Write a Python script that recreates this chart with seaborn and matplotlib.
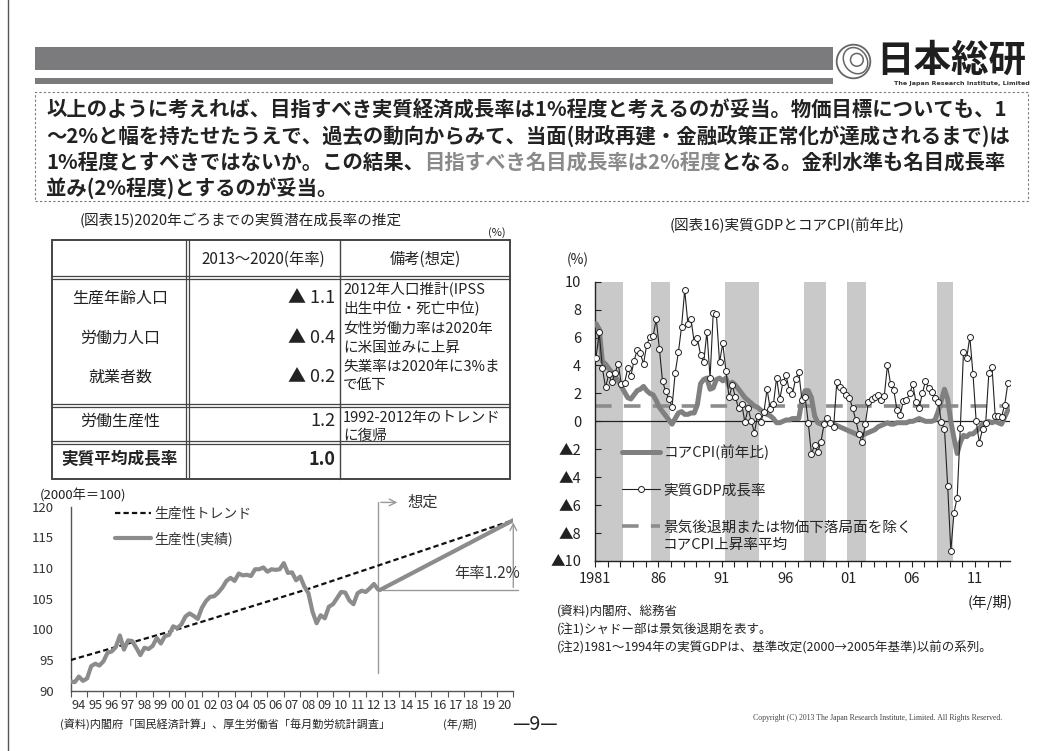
import numpy as np
import pandas as pd
import matplotlib
matplotlib.use("Agg")
import matplotlib.pyplot as plt
import seaborn as sns
from matplotlib.lines import Line2D
from matplotlib.patches import Rectangle, Ellipse, Circle

# ---------------- DATA ----------------
# Left chart: labour productivity (2000=100), quarterly from 1994Q1
prod_start_year = 1994.0
prod_actual = [91.5, 91.4, 92.3, 91.6, 92.0, 94.0, 94.4, 94.1, 94.8, 96.2, 96.4, 97.1,
               99.0, 96.7, 98.2, 98.1, 97.0, 95.8, 97.0, 96.8, 97.3, 98.6, 97.7, 98.9,
               99.1, 100.5, 100.2, 100.8, 102.1, 102.6, 102.2, 101.7, 103.5, 104.6, 105.3, 105.4,
               106.0, 106.8, 107.9, 108.4, 107.9, 109.1, 108.8, 108.9, 108.7, 109.8, 109.8, 110.1,
               109.4, 109.8, 109.7, 109.8, 110.8, 109.2, 109.3, 108.0, 108.6, 107.0, 105.9, 102.9,
               101.0, 102.3, 101.8, 103.7, 104.1, 105.1, 106.1, 106.0, 104.7, 104.1, 105.9, 106.3,
               106.1, 106.7, 107.4, 106.5]
trend_years = [1994.0, 2000.5, 2008.5, 2012.75, 2021.0]
trend_vals = [95.0, 100.0, 106.6, 110.4, 117.8]
proj_years = [2012.85, 2021.0]
proj_vals = [106.4, 117.8]
left_xtick_labels = ["94", "95", "96", "97", "98", "99", "00", "01", "02", "03", "04", "05", "06",
                     "07", "08", "09", "10", "11", "12", "13", "14", "15", "16", "17", "18", "19", "20"]
left_yticks = [90, 95, 100, 105, 110, 115, 120]

# Right chart: quarterly from 1981Q1
q_start_year = 1981.0
gdp = [4.55, 6.37, 3.83, 2.43, 3.36, 2.79, 3.46, 4.12, 2.67, 2.72, 3.79, 3.24,
       4.34, 5.10, 4.86, 4.12, 5.48, 6.03, 6.08, 7.34, 5.20, 2.86, 2.14, 1.59,
       1.05, 3.48, 4.94, 6.77, 9.40, 7.00, 7.30, 5.65, 5.98, 4.75, 4.22, 6.41,
       3.12, 7.73, 7.66, 4.22, 5.58, 3.62, 1.72, 2.60, 1.74, 0.93, 1.26, -0.07,
       0.93, 0.02, -0.81, 0.40, -0.03, 0.64, 2.31, 0.86, 1.22, 3.12, 1.57, 2.79,
       3.31, 2.24, 1.95, 3.03, 3.55, 1.52, 1.76, -0.10, -2.34, -1.70, -2.22, -1.46,
       -0.19, 0.21, -0.10, -0.43, 2.79, 2.48, 2.24, 1.88, 1.64, 0.98, 0.09, -0.93,
       -1.50, -0.21, 1.40, 1.60, 1.76, 1.88, 1.52, 1.83, 4.03, 2.65, 2.24, 0.81,
       0.45, 1.45, 1.52, 2.00, 2.65, 1.36, 0.93, 2.00, 2.88, 2.36, 2.07, 1.69,
       1.40, -0.03, -0.55, -4.61, -9.28, -6.54, -5.47, -0.46, 4.98, 4.51, 6.06, 3.36,
       0.02, -1.53, -0.55, -0.14, 3.44, 3.91, 0.40, 0.40, 0.33, 1.17, 2.72]
core_cpi = [7.0, 6.6, 4.3, 4.1, 3.8, 3.5, 3.2, 2.9, 2.5, 2.1, 1.7, 1.6,
            1.9, 2.2, 2.3, 2.5, 2.2, 2.0, 1.9, 1.5, 1.0, 0.7, 0.4, 0.1,
            -0.2, 0.2, 0.6, 0.7, 0.5, 0.5, 0.6, 0.6, 1.2, 2.7, 3.0, 3.1,
            2.3, 2.4, 3.0, 3.1, 2.9, 3.1, 2.5, 2.8, 2.6, 2.3, 2.0, 1.7,
            1.5, 1.3, 1.1, 1.0, 0.8, 0.6, 0.5, 0.4, 0.2, -0.1, -0.1, 0.0,
            0.1, 0.1, 0.2, 0.2, 0.2, 1.5, 2.2, 2.2, 1.7, 0.4, -0.1, -0.2,
            -0.1, 0.1, -0.1, -0.2, -0.3, -0.4, -0.5, -0.6, -0.7, -0.8, -0.9, -1.0,
            -1.0, -0.9, -0.8, -0.7, -0.6, -0.4, -0.3, -0.2, -0.1, -0.2, -0.2, -0.1,
            -0.1, -0.1, -0.1, 0.0, 0.0, 0.1, 0.2, 0.1, 0.0, 0.0, 0.0, 0.1,
            0.7, 1.5, 2.3, 1.6, 0.0, -1.2, -2.3, -1.5, -1.0, -1.1, -0.9, -0.9,
            -0.7, -0.5, -0.2, -0.1, 0.0, -0.1, 0.0, -0.1, -0.2, 0.3, 0.8]
cpi_avg = 1.1
rec_start = [1980.9, 1985.45, 1991.25, 1997.5, 2000.9, 2008.0]
rec_end = [1983.2, 1986.95, 1993.95, 1999.2, 2002.4, 2009.25]
right_yticks = [10, 8, 6, 4, 2, 0, -2, -4, -6, -8, -10]

# Table
tbl_rows = ["生産年齢人口", "労働力人口", "就業者数", "労働生産性", "実質平均成長率"]
tbl_vals = ["▲ 1.1", "▲ 0.4", "▲ 0.2", "1.2", "1.0"]
tbl_notes = ["2012年人口推計(IPSS", "出生中位・死亡中位)", "女性労働力率は2020年", "に米国並みに上昇",
             "失業率は2020年に3%ま", "で低下", "1992-2012年のトレンド", "に復帰"]

# ---------------- STYLE ----------------
sns.set_theme(style="white")
plt.rcParams['font.family'] = ['Noto Sans CJK JP', 'DejaVu Sans']
plt.rcParams['axes.unicode_minus'] = False

W, H = 1059, 751
fig = plt.figure(figsize=(W / 100, H / 100), dpi=100)
fig.patch.set_facecolor('white')
renderer = fig.canvas.get_renderer()


def fx(x):
    return x / W


def fy(y):
    return 1 - y / H


def T(x, y, s, **kw):
    kw.setdefault('va', 'center')
    kw.setdefault('ha', 'left')
    kw.setdefault('color', '#222222')
    return fig.text(fx(x), fy(y), s, **kw)


def L(xs, ys, **kw):
    kw.setdefault('color', '#444444')
    kw.setdefault('lw', 1)
    fig.add_artist(Line2D([fx(v) for v in xs], [fy(v) for v in ys], transform=fig.transFigure, **kw))


def R(x0, y0, x1, y1, **kw):
    fig.add_artist(Rectangle((fx(x0), fy(y1)), fx(x1) - fx(x0), (y1 - y0) / H,
                             transform=fig.transFigure, **kw))


def rich(x, y, pieces, **kw):
    for s, c in pieces:
        t = T(x, y, s, color=c, **kw)
        bb = t.get_window_extent(renderer=renderer)
        x += bb.width


# frame line at left
L([8, 8], [0, 751], color='#555555', lw=1)

# header bars
R(35, 47, 833, 70, fc='#7b7b7d', ec='none')
R(35, 78, 833, 84, fc='#7b7b7d', ec='none')

# logo
lax = fig.add_axes([fx(835), fy(80), 37 / W, 37 / H])
lax.set_xlim(-1.1, 1.1)
lax.set_ylim(-1.1, 1.1)
lax.set_aspect('equal')
lax.axis('off')
lax.add_patch(Circle((0, 0), 1.0, fill=False, ec='#666666', lw=1.3))
lax.add_patch(Ellipse((0.12, 0.05), 1.35, 1.65, angle=35, fill=False, ec='#666666', lw=1.1))
lax.add_patch(Circle((0.2, 0.1), 0.38, fill=False, ec='#666666', lw=1.1))
T(876, 60, "日本総研", fontsize=27, fontweight='bold', color='#1e1e1e')
T(1030, 83, "The Japan Research Institute, Limited", fontsize=4.6, fontweight='bold', ha='right',
  family=['DejaVu Sans'], color='#333333')

# dashed message box
R(35, 92, 1028, 201, fill=False, ec='#777777', lw=0.8, ls=(0, (2, 2)))
fs_box = 14.7
T(46, 110, "以上のように考えれば、目指すべき実質経済成長率は1%程度と考えるのが妥当。物価目標についても、1",
  fontsize=fs_box, fontweight='bold')
T(46, 136, "～2%と幅を持たせたうえで、過去の動向からみて、当面(財政再建・金融政策正常化が達成されるまで)は",
  fontsize=fs_box, fontweight='bold')
rich(46, 162, [("1%程度とすべきではないか。この結果、", '#222222'),
               ("目指すべき名目成長率は2%程度", '#8a8a8a'),
               ("となる。金利水準も名目成長率", '#222222')], fontsize=fs_box, fontweight='bold')
T(46, 188, "並み(2%程度)とするのが妥当。", fontsize=fs_box, fontweight='bold')

# ---------------- TABLE ----------------
T(80, 221, "(図表15)2020年ごろまでの実質潜在成長率の推定", fontsize=10.5)
T(497, 233, "(%)", fontsize=8, ha='center')
tx0, tx1, tx2, tx3 = 52, 187.5, 340, 510
ty0, ty1, ty2, ty3, ty4 = 240, 277.5, 405.5, 442.5, 479
L([tx0, tx3], [ty0, ty0], lw=1.4)
L([tx0, tx3], [ty4, ty4], lw=1.4)
L([tx0, tx0], [ty0, ty4], lw=1.4)
L([tx3, tx3], [ty0, ty4], lw=1.4)
for yy in (ty1, ty2, ty3):
    L([tx0, tx3], [yy - 1.6, yy - 1.6], lw=0.9)
    L([tx0, tx3], [yy + 1.6, yy + 1.6], lw=0.9)
L([tx1 - 1.6, tx1 - 1.6], [ty0, ty4], lw=0.9)
L([tx1 + 1.6, tx1 + 1.6], [ty0, ty4], lw=0.9)
L([tx2, tx2], [ty0, ty4], lw=1.0)
T((tx1 + tx2) / 2, 259, "2013～2020(年率)", fontsize=11, ha='center')
T((tx2 + tx3) / 2, 259, "備考(想定)", fontsize=11, ha='center')
row_y = [298, 338, 377, 421, 459]
for i, (lab, val) in enumerate(zip(tbl_rows, tbl_vals)):
    bold = (i == len(tbl_rows) - 1)
    T(120, row_y[i], lab, fontsize=12 if bold else 11.5, ha='center',
      fontweight='bold' if bold else 'normal')
    T(335, row_y[i], val, fontsize=13, ha='right', fontweight='bold' if bold else 'normal')
note_y = [289, 308, 329, 348, 367, 385, 418, 436]
for s, yy in zip(tbl_notes, note_y):
    T(343, yy, s, fontsize=10.5)

# ---------------- LEFT CHART ----------------
ax1 = fig.add_axes([fx(70.7), fy(690.7), (513.3 - 70.7) / W, (690.7 - 506.7) / H])
qx_prod = prod_start_year + np.arange(len(prod_actual)) / 4
df_trend = pd.DataFrame({"x": trend_years, "y": trend_vals})
df_act = pd.DataFrame({"x": qx_prod, "y": prod_actual})
df_proj = pd.DataFrame({"x": proj_years, "y": proj_vals})
sns.lineplot(data=df_trend, x="x", y="y", ax=ax1, color='#111111', lw=1.6,
             dashes=False, label="生産性トレンド", zorder=3)
ax1.lines[-1].set_dashes((2.4, 1.4))
sns.lineplot(data=df_act, x="x", y="y", ax=ax1, color='#8c8c8c', lw=3.0, label="生産性(実績)", zorder=4)
sns.lineplot(data=df_proj, x="x", y="y", ax=ax1, color='#8c8c8c', lw=3.0, zorder=4)
ax1.set_xlim(1994, 2021)
ax1.set_ylim(90, 120)
ax1.set_xlabel("")
ax1.set_ylabel("")
for s in ("top", "right"):
    ax1.spines[s].set_visible(False)
for s in ("left", "bottom"):
    ax1.spines[s].set_color('#555555')
    ax1.spines[s].set_linewidth(1.0)
ax1.set_yticks(left_yticks)
ax1.set_yticklabels([str(v) for v in left_yticks], fontsize=9.5, color='#333333')
ax1.set_xticks(np.arange(1994, 2022))
ax1.set_xticklabels([])
ax1.set_xticks(np.arange(1994, 2021) + 0.5, minor=True)
ax1.set_xticklabels(left_xtick_labels, minor=True, fontsize=9.2, color='#333333')
ax1.tick_params(axis='x', which='major', direction='out', length=4, width=0.8, color='#555555', bottom=True)
ax1.tick_params(axis='x', which='minor', length=0, pad=6, bottom=True)
ax1.tick_params(axis='y', length=0, pad=12)
leg1 = ax1.legend(loc='upper left', bbox_to_anchor=(0.099, 1.0), frameon=False, fontsize=10,
                  handlelength=2.6, handletextpad=0.25, labelspacing=0.75, borderpad=0, borderaxespad=0)
for t in leg1.get_texts():
    t.set_color('#333333')
# annotations
ax1.plot([proj_years[0] - 0.1, proj_years[0] - 0.1], [92.9, 120.7], color='#9a9a9a', lw=1.0, clip_on=False)
ax1.annotate('', xy=(2014.1, 120.7), xytext=(proj_years[0] - 0.1, 120.7),
             arrowprops=dict(arrowstyle='->', color='#9a9a9a', lw=1.0, mutation_scale=12),
             annotation_clip=False)
ax1.text(2015.5, 120.8, "想定", fontsize=11, ha='center', va='center', color='#333333')
ax1.plot([2013.05, 2021.3], [proj_vals[0], proj_vals[0]], color='#9a9a9a', lw=1.0, clip_on=False)
ax1.annotate('', xy=(2021.0, proj_vals[1] + 0.1), xytext=(2021.0, proj_vals[0]),
             arrowprops=dict(arrowstyle='->', color='#9a9a9a', lw=1.0, mutation_scale=12),
             annotation_clip=False)
ax1.text(2019.4, 109.1, "年率1.2%", fontsize=11, ha='center', va='center', color='#333333')
T(40, 495, "(2000年＝100)", fontsize=9.5)

# ---------------- RIGHT CHART ----------------
T(787, 225, "(図表16)実質GDPとコアCPI(前年比)", fontsize=10.5, ha='center')
T(578, 260, "(%)", fontsize=10, ha='center')
ax2 = fig.add_axes([fx(595), fy(561), (1010 - 595) / W, (561 - 281.7) / H])
x0, x1 = 1981.0, 2013.75
for s, e in zip(rec_start, rec_end):
    ax2.axvspan(max(s, x0), e, color='#c9c9c9', lw=0, zorder=0)
qx = q_start_year + 0.08 + np.arange(len(gdp)) / 4
df_r = pd.DataFrame({"x": qx, "gdp": gdp, "cpi": core_cpi})
ax2.axhline(0, color='#222222', lw=0.9, zorder=1.5)
sns.lineplot(data=df_r, x="x", y="cpi", ax=ax2, color='#808080', lw=3.6, label="コアCPI(前年比)", zorder=3)
sns.lineplot(data=df_r, x="x", y="gdp", ax=ax2, color='#222222', lw=0.8, marker='o', markersize=4.3,
             markerfacecolor='white', markeredgecolor='#222222', markeredgewidth=0.7,
             label="実質GDP成長率", zorder=4)
ax2.axhline(cpi_avg, color='#8c8c8c', lw=2.6, dashes=(4.6, 3.4), zorder=2,
            label="景気後退期または物価下落局面を除く")
ax2.set_xlim(x0, x1)
ax2.set_ylim(-10, 10)
ax2.set_xlabel("")
ax2.set_ylabel("")
for s in ("top", "right"):
    ax2.spines[s].set_visible(False)
for s in ("left", "bottom"):
    ax2.spines[s].set_color('#222222')
    ax2.spines[s].set_linewidth(1.0)
ax2.set_yticks(right_yticks)
ax2.set_yticklabels([("▲" + str(abs(v))) if v < 0 else str(v) for v in right_yticks],
                    fontsize=10.5, color='#222222')
years = np.arange(1981, 2014)
ax2.set_xticks(years)
ax2.set_xticklabels([("1981" if y == 1981 else f"{y % 100:02d}") if (y - 1981) % 5 == 0 else ""
                     for y in years], fontsize=10.5, color='#222222')
ax2.tick_params(axis='x', direction='out', length=4, width=0.8, color='#222222', pad=4, bottom=True)
ax2.tick_params(axis='y', direction='in', length=4, width=0.8, color='#222222', pad=10, left=True)
h, l = ax2.get_legend_handles_labels()
leg2 = ax2.legend(h, l, loc='upper left', bbox_to_anchor=(0.066, 0.418), frameon=False, fontsize=10.5,
                  handlelength=2.6, handletextpad=0.2, labelspacing=1.6, borderpad=0, borderaxespad=0)
T(663, 545, "コアCPI上昇率平均", fontsize=10.5)
T(990, 603, "(年/期)", fontsize=10.5, ha='center')
T(557, 612, "(資料)内閣府、総務省", fontsize=9)
T(557, 630, "(注1)シャドー部は景気後退期を表す。", fontsize=9)
T(557, 648, "(注2)1981～1994年の実質GDPは、基準改定(2000→2005年基準)以前の系列。", fontsize=9)

# ---------------- FOOTER ----------------
T(60, 724, "(資料)内閣府「国民経済計算」、厚生労働省「毎月勤労統計調査」", fontsize=8)
T(460, 724, "(年/期)", fontsize=8, ha='center')
T(535, 725, "—9—", fontsize=14, ha='center')
T(753, 718, "Copyright (C) 2013 The Japan Research Institute, Limited. All Rights Reserved.", fontsize=5.6,
  family=['Liberation Serif'], color='#444444')

fig.savefig("out.png", dpi=100, facecolor='white')
